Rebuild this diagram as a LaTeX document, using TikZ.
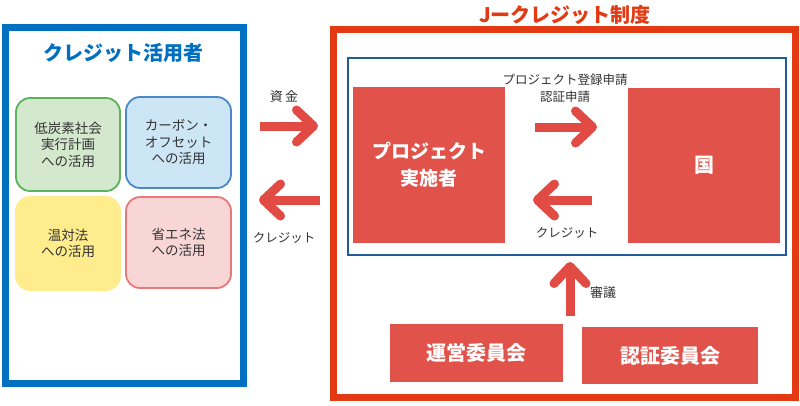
\documentclass[tikz,border=0pt]{standalone}
\usepackage{fontspec}
\setmainfont{Noto Sans CJK JP}
\usetikzlibrary{arrows.meta}
\definecolor{ublue}{HTML}{0070C0}
\definecolor{jred}{HTML}{E33A14}
\definecolor{boxred}{HTML}{E0524A}
\definecolor{arrred}{HTML}{E14B43}
\definecolor{innerblue}{HTML}{1F5C99}
\definecolor{txt}{HTML}{333333}
\definecolor{gfill}{HTML}{D3E8CC}
\definecolor{gline}{HTML}{5BB35B}
\definecolor{bfill}{HTML}{CDE6F6}
\definecolor{bline}{HTML}{4C88C8}
\definecolor{yfill}{HTML}{FFEC8C}
\definecolor{pfill}{HTML}{F8D6D6}
\definecolor{pline}{HTML}{E8787A}
\begin{document}
\begin{tikzpicture}[x=1pt,y=-1pt,
  frame/.style={draw, line width=7pt, inner sep=0pt, rectangle},
  usebox/.style={rounded corners=14pt, line width=1.8pt, inner sep=0pt, align=center,
     text=txt, font=\fontsize{13.5}{16.5}\selectfont},
  redbox/.style={fill=boxred, inner sep=0pt, text=white, align=center,
     font=\bfseries\fontsize{19}{27}\selectfont},
  lbl/.style={text=txt, inner sep=0pt, align=center, font=\fontsize{12.5}{17}\selectfont},
  bigarrow/.style={draw=arrred, line width=9pt,
     -{Straight Barb[length=17pt, width=32pt, round]}},
]
\useasboundingbox (0,0) rectangle (800,405);
\fill[white] (0,0) rectangle (800,405);

% left frame
\node[frame, draw=ublue, minimum width=237.5pt, minimum height=356pt] (uframe) at (124.25,205) {};
\node[text=ublue, inner sep=0pt, font=\bfseries\fontsize{20}{24}\selectfont] (utitle) at (123,53) {クレジット活用者};

\node[usebox, fill=gfill, draw=gline, minimum width=104pt, minimum height=93pt] (ug) at (68,144.5) {低炭素社会\\実行計画\\への活用};
\node[usebox, fill=bfill, draw=bline, minimum width=105pt, minimum height=91pt] (ub) at (178.5,142.5) {カーボン・\\オフセット\\への活用};
\node[usebox, fill=yfill, draw=yfill, minimum width=104pt, minimum height=93pt] (uy) at (68,243.5) {温対法\\への活用};
\node[usebox, fill=pfill, draw=pline, minimum width=105pt, minimum height=91pt] (up) at (178.5,242.5) {省エネ法\\への活用};

% right frame
\node[frame, draw=jred, minimum width=462pt, minimum height=368pt] (jframe) at (564.5,213) {};
\node[text=jred, inner sep=0pt, font=\bfseries\fontsize{20}{24}\selectfont] (jtitle) at (565,15) {Jークレジット制度};

\node[draw=innerblue, line width=1.8pt, inner sep=0pt, minimum width=438pt, minimum height=197pt] (inner) at (567,156.5) {};

\node[redbox, minimum width=152pt, minimum height=156pt] (proj) at (429,165) {プロジェクト\\実施者};
\node[redbox, minimum width=152pt, minimum height=155pt, font=\bfseries\fontsize{20}{24}\selectfont] (kuni) at (704,165.5) {国};

\node[redbox, minimum width=173pt, minimum height=58pt, font=\bfseries\fontsize{20}{24}\selectfont] (unei) at (476.5,353) {運営委員会};
\node[redbox, minimum width=176pt, minimum height=57pt, font=\bfseries\fontsize{20}{24}\selectfont] (nintei) at (670,355.5) {認証委員会};

% arrow end points
\coordinate (a1s) at (260,126);  \coordinate (a1e) at (318,126);
\coordinate (a2s) at (320,200);  \coordinate (a2e) at (259,200);
\coordinate (a3s) at (535,127);  \coordinate (a3e) at (597,127);
\coordinate (a4s) at (592,200);  \coordinate (a4e) at (533,200);
\coordinate (a5s) at (570,316);  \coordinate (a5e) at (570,262);

\draw[bigarrow] (a1s) -- (a1e);
\draw[bigarrow] (a2s) -- (a2e);
\draw[bigarrow] (a3s) -- (a3e);
\draw[bigarrow] (a4s) -- (a4e);
\draw[bigarrow] (a5s) -- (a5e);

\node[lbl, font=\fontsize{13}{16}\selectfont] (l1) at (284,97) {資\,金};
\node[lbl] (l2) at (284,238) {クレジット};
\node[lbl] (l3) at (565,88) {プロジェクト登録申請\\認証申請};
\node[lbl] (l4) at (567,233) {クレジット};
\node[lbl, font=\fontsize{13}{16}\selectfont] (l5) at (603,293) {審議};
\end{tikzpicture}
\end{document}
